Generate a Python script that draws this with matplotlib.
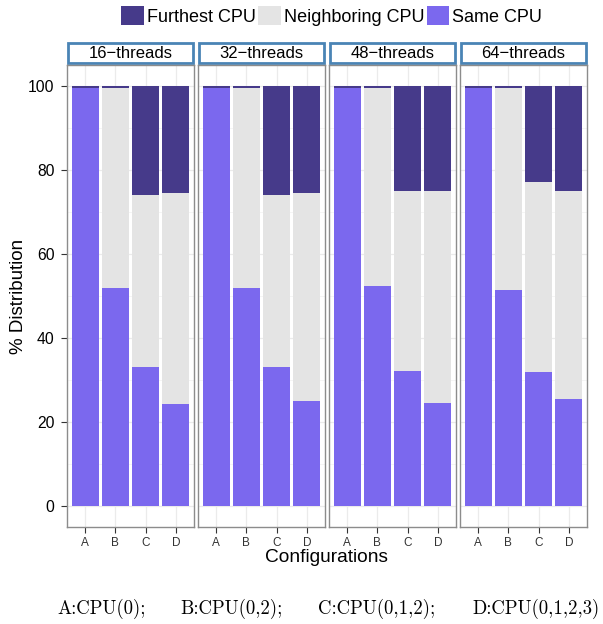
import matplotlib
matplotlib.use("Agg")
import os
import matplotlib.pyplot as plt
from matplotlib.patches import Patch, Rectangle
from matplotlib.font_manager import FontProperties
import numpy as np

plt.rcParams['font.family'] = ['Liberation Sans', 'DejaVu Sans']

configs = ["A", "B", "C", "D"]
panels = ["16\u2212threads", "32\u2212threads", "48\u2212threads", "64\u2212threads"]
same = [
    [99.6, 51.8, 33.0, 24.4],
    [99.6, 52.0, 33.0, 24.9],
    [99.6, 52.4, 32.1, 24.6],
    [99.6, 51.5, 32.0, 25.5],
]
neighbor_top = [
    [99.6, 99.6, 74.1, 74.5],
    [99.6, 99.6, 74.0, 74.6],
    [99.6, 99.6, 75.0, 75.0],
    [99.6, 99.6, 77.2, 75.0],
]
series_names = ["Furthest CPU", "Neighboring CPU", "Same CPU"]
colors = {"Furthest CPU": "#463A8A", "Neighboring CPU": "#E4E4E4", "Same CPU": "#7B68EE"}
footnote = ["A:CPU(0);", "B:CPU(0,2);", "C:CPU(0,1,2);", "D:CPU(0,1,2,3)"]

fig = plt.figure(figsize=(6.03, 6.24), dpi=100)
W, H = 603, 624
lefts = [67, 198, 329, 460]
pw = 127
top_px, bot_px = 65, 527

x = np.arange(len(configs))
for i, (name, l) in enumerate(zip(panels, lefts)):
    ax = fig.add_axes([l / W, 1 - bot_px / H, pw / W, (bot_px - top_px) / H])
    s = np.array(same[i])
    nt = np.array(neighbor_top[i])
    nb = nt - s
    fu = 100 - nt
    ax.bar(x, s, width=0.9, color=colors["Same CPU"], zorder=3)
    ax.bar(x, nb, bottom=s, width=0.9, color=colors["Neighboring CPU"], zorder=3)
    ax.bar(x, fu, bottom=nt, width=0.9, color=colors["Furthest CPU"], zorder=3)
    ax.set_xlim(-0.6, 3.6)
    ax.set_ylim(-5, 105)
    ax.set_xticks(x)
    ax.set_xticklabels(configs, fontsize=8.5, color="#333333")
    ax.set_yticks(np.arange(0, 101, 20))
    ax.set_yticks(np.arange(10, 100, 20), minor=True)
    ax.grid(True, which="major", color="#EBEBEB", lw=0.9, zorder=0)
    ax.grid(True, which="minor", axis="y", color="#F4F4F4", lw=0.6, zorder=0)
    ax.tick_params(axis="x", length=4, width=0.8, color="#333333", pad=3)
    ax.tick_params(axis="y", which="minor", length=0)
    if i == 0:
        ax.set_yticklabels([str(v) for v in range(0, 101, 20)], fontsize=11.3)
        ax.tick_params(axis="y", length=4, width=0.8, color="#333333", pad=5)
        ax.set_ylabel("% Distribution", fontsize=13.5, labelpad=1)
    else:
        ax.tick_params(axis="y", which="both", length=0, labelleft=False)
    for sp in ax.spines.values():
        sp.set_color("#8C8C8C")
        sp.set_linewidth(1.0)
    rect = Rectangle((0.005, 1 + 2 / 462), 0.99, 20 / 462, transform=ax.transAxes,
                     facecolor="white", edgecolor="#4A84B5", lw=2.0, clip_on=False)
    ax.add_patch(rect)
    ax.text(0.5, 1 + 12 / 462, name, transform=ax.transAxes, ha="center", va="center",
            fontsize=12)

fig.text((67 + 587) / 2 / W, 1 - 557 / H, "Configurations", ha="center", va="center", fontsize=13.8)

handles = [Patch(facecolor=colors[n], edgecolor="none", label=n) for n in series_names]
fig.legend(handles=handles, loc="center", bbox_to_anchor=(0.55, 1 - 16 / H), ncol=3,
           frameon=False, fontsize=13, handlelength=1.25, handleheight=1.25,
           handletextpad=0.15, columnspacing=0.15, borderaxespad=0)

cm_path = os.path.join(matplotlib.get_data_path(), "fonts", "ttf", "cmr10.ttf")
cmfp = FontProperties(fname=cm_path, size=13.5)
xs = [57, 180, 318, 472]
for xx, t in zip(xs, footnote):
    fig.text(xx / W, 1 - 609 / H, t, fontproperties=cmfp, ha="left", va="center")

fig.savefig("out.png", dpi=100)
